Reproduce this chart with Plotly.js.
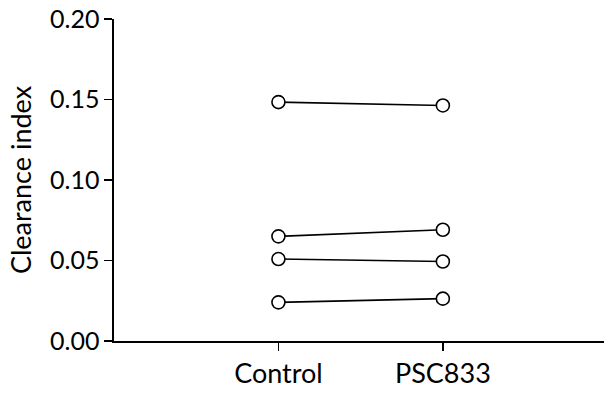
<!DOCTYPE html>
<html><head><meta charset="utf-8">
<script src="https://cdn.plot.ly/plotly-3.0.1.min.js"></script>
<style>html,body{margin:0;padding:0;background:#fff}#chart{width:604px;height:394px}</style>
</head><body><div id="chart"></div>
<script>
var categories = ["Control", "PSC833"];
var subject1 = [0.1484, 0.1463];
var subject2 = [0.0650, 0.0691];
var subject3 = [0.0509, 0.0494];
var subject4 = [0.0240, 0.0263];
var yTicks = [0, 0.05, 0.10, 0.15, 0.20];

var xpos = [0, 1];
var traces = [subject1, subject2, subject3, subject4].map(function(v){
  return {x: xpos, y: v, mode: 'lines+markers', type: 'scatter', cliponaxis: false,
    line: {color: '#000', width: 1.6},
    marker: {symbol: 'circle', size: 13, color: '#fff', line: {color: '#000', width: 1.6}},
    showlegend: false, hoverinfo: 'skip'};
});

var fam = 'Lato, "Open Sans", sans-serif';
var yfont = {family: fam, size: 25, color: '#000'};
var xfont = {family: fam, size: 27, color: '#000'};
var tfont = {family: fam, size: 27, color: '#000'};
var layout = {
  width: 604, height: 394,
  margin: {l: 114, r: 0, t: 19, b: 53},
  paper_bgcolor: '#fff', plot_bgcolor: '#fff',
  font: yfont,
  xaxis: {range: [-1, 1.98], tickvals: xpos, ticktext: categories, showgrid: false, zeroline: false,
    showline: true, linecolor: '#000', linewidth: 1.6, ticks: 'outside', ticklen: 8, tickwidth: 1.5, tickcolor: '#000',
    tickfont: xfont, fixedrange: true},
  yaxis: {range: [0, 0.2], tickvals: yTicks, tickformat: '.2f', showgrid: false, zeroline: false,
    showline: true, linecolor: '#000', linewidth: 1.6, ticks: 'outside', ticklen: 8, tickwidth: 1.5, tickcolor: '#000',
    tickfont: yfont, title: {text: 'Clearance index', font: tfont, standoff: 10}, automargin: false, fixedrange: true}
};
Plotly.newPlot('chart', traces, layout, {staticPlot: true, displayModeBar: false});
</script></body></html>
